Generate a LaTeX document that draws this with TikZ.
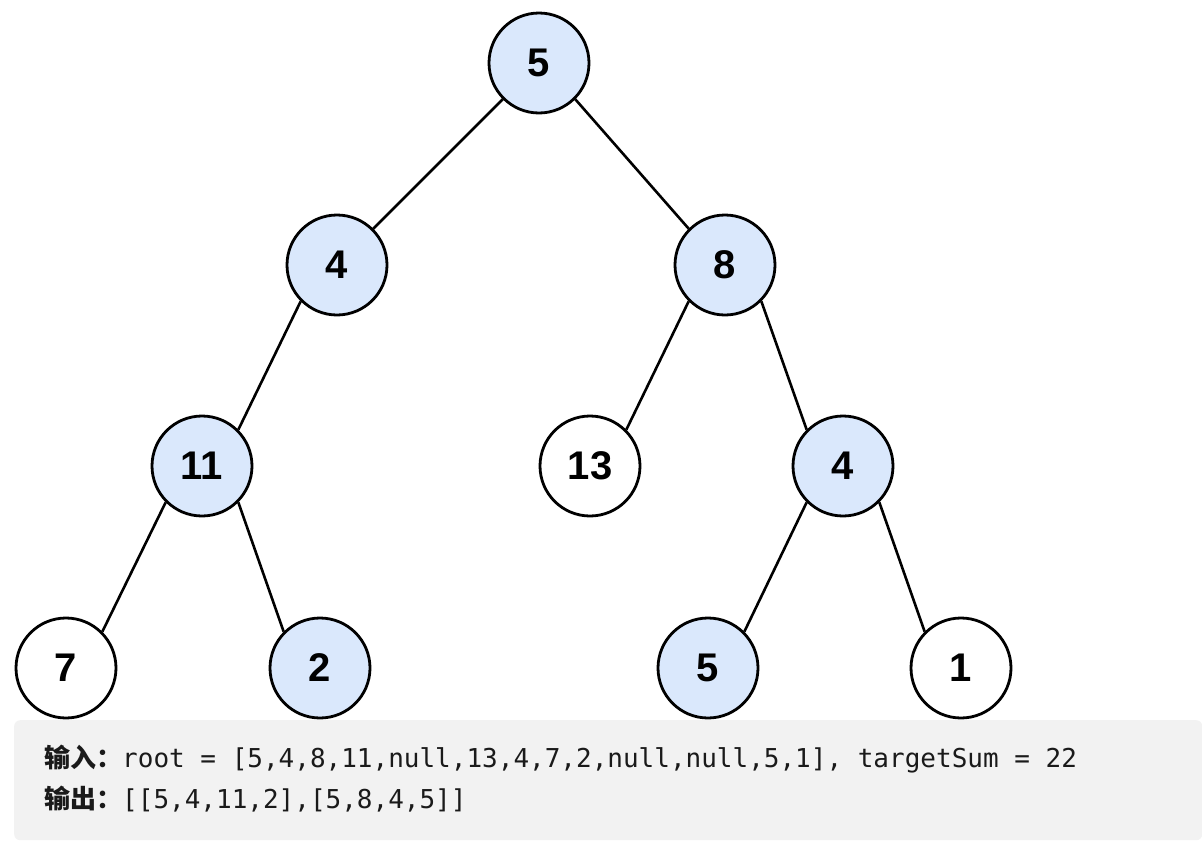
\documentclass[tikz,border=0pt]{standalone}
\usepackage{fontspec}
\setmainfont{Liberation Sans}
\newfontfamily\monof{DejaVu Sans Mono}
\newfontfamily\cjk{Noto Sans CJK SC}
\definecolor{nodeblue}{HTML}{DAE8FC}
\definecolor{boxgray}{HTML}{F2F2F2}
\definecolor{txtcol}{HTML}{1A1A1A}
\begin{document}
\begin{tikzpicture}[x=1pt,y=-1pt,
  tn/.style={circle, draw=black, line width=2.8pt, minimum size=100pt, inner sep=0pt,
    font=\fontsize{40}{40}\selectfont\bfseries, fill=white},
  hl/.style={tn, fill=nodeblue},
  edge/.style={line width=2.6pt, black},
  boxstyle/.style={fill=boxgray, rounded corners=6pt, inner sep=0pt, anchor=north west,
    minimum width=1188pt, minimum height=120pt},
  cjklabel/.style={anchor=base west, inner sep=0pt, text=txtcol,
    font=\cjk\bfseries\fontsize{26}{26}\selectfont},
  monotext/.style={anchor=base west, inner sep=0pt, text=txtcol,
    font=\monof\fontsize{26}{26}\selectfont}]
\useasboundingbox (0,0) rectangle (1202,846);
\fill[white] (0,0) rectangle (1202,846);
% nodes
\node[hl] (r)   at (539,63)  {5};
\node[hl] (a)   at (337,265) {4};
\node[hl] (b)   at (725,265) {8};
\node[hl] (c)   at (202,466) {11};
\node[tn] (d)   at (590,466) {13};
\node[hl] (e)   at (843,466) {4};
\node[tn] (f)   at (66,668)  {7};
\node[hl] (g)   at (320,668) {2};
\node[hl] (h)   at (708,668) {5};
\node[tn] (i)   at (961,668) {1};
% edges
\draw[edge] (r.south west) -- (a.north east);
\draw[edge] (r.south east) -- (b.north west);
\draw[edge] (a.south west) -- (c.north east);
\draw[edge] (b.south west) -- (d.north east);
\draw[edge] (b.south east) -- (e.north west);
\draw[edge] (c.south west) -- (f.north east);
\draw[edge] (c.south east) -- (g.north west);
\draw[edge] (e.south west) -- (h.north east);
\draw[edge] (e.south east) -- (i.north west);
% text box
\node[boxstyle] (box) at (14,720) {};
\node[cjklabel] (l1) at (44,767) {输入：};
\node[monotext] (t1) at (122,767) {root = [5,4,8,11,null,13,4,7,2,null,null,5,1], targetSum = 22};
\node[cjklabel] (l2) at (44,808) {输出：};
\node[monotext] (t2) at (122,808) {[[5,4,11,2],[5,8,4,5]]};
\end{tikzpicture}
\end{document}
